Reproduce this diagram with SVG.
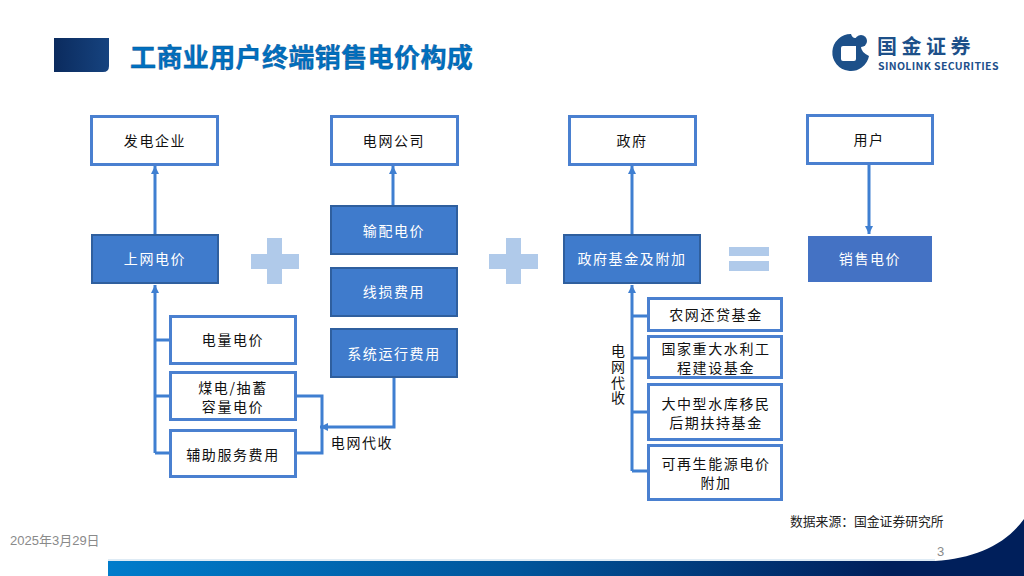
<svg xmlns="http://www.w3.org/2000/svg" width="1024" height="576" viewBox="0 0 1024 576">
<defs>
<linearGradient id="hd" x1="0" x2="1" y1="0" y2="0"><stop offset="0" stop-color="#0b2b5e"/><stop offset="1" stop-color="#16437f"/></linearGradient>
<linearGradient id="ft" gradientUnits="userSpaceOnUse" x1="108" x2="1024" y1="0" y2="0"><stop offset="0" stop-color="#007ccb"/><stop offset="0.45" stop-color="#01559b"/><stop offset="0.85" stop-color="#001f5b"/><stop offset="1" stop-color="#001f5b"/></linearGradient>
<marker id="ah" markerUnits="userSpaceOnUse" markerWidth="10" markerHeight="9" refX="8" refY="4" orient="auto"><path d="M0 0L8 4L0 8Z" fill="#3f7fd1"/></marker>
</defs>
<style>
text{font-family:"Noto Sans CJK SC","Noto Sans",sans-serif}
.o{fill:#fff;stroke:#4a80d0;stroke-width:3}
.f{fill:#3f7bcc;stroke:#2f5f9e;stroke-width:2}
.t{font-size:14px;letter-spacing:1.6px;text-anchor:middle;fill:#111}
.c{fill:none;stroke:#3f7fd1;stroke-width:3}
.s{fill:#b0caea}
</style>
<rect width="1024" height="576" fill="#fff"/>
<g id="header">
<path d="M54 38H109V66Q109 72 103 72H54Z" fill="url(#hd)"/>
<text x="130" y="67" font-size="26" font-weight="700" letter-spacing="0.4" fill="#0070bf" stroke="#0a4f92" stroke-width="0.4">工商业用户终端销售电价构成</text>
</g>
<g id="logo">
<path fill-rule="evenodd" d="M851 34A18.500 18.500 0 1 0 869 56Q861 52 861 47Q864 42 858 37Q853 40 851 34ZM843 46H856V59Q856 61 854 61H843Q841 61 841 59V48Q841 46 843 46Z" fill="#1d5089"/>
<circle cx="861" cy="41" r="6" fill="#1d5089"/>
<text x="877" y="54" font-size="20" font-weight="700" letter-spacing="4.500" fill="#1d5089">国金证券</text>
<text x="878" y="69.500" font-size="10.500" font-weight="700" letter-spacing="0.35" fill="#1d4f8a" font-family="Liberation Sans">SINOLINK SECURITIES</text>
</g>
<g id="connectors">
<path class="c" d="M155 235V166" marker-end="url(#ah)"/>
<path class="c" d="M393 206V166" marker-end="url(#ah)"/>
<path class="c" d="M632 235V166" marker-end="url(#ah)"/>
<path class="c" d="M869 163V234" marker-end="url(#ah)"/>
<path class="c" d="M155 453V285" marker-end="url(#ah)"/>
<path class="c" d="M170 340H155M170 396H155M170 453H155"/>
<path class="c" d="M296 396H322V453H296"/>
<path class="c" d="M394 377V427H320" marker-end="url(#ah)"/>
<path class="c" d="M632 471V285" marker-end="url(#ah)"/>
<path class="c" d="M648 316H632M648 358H632M648 412H632M648 471H632"/>
</g>
<g id="n1"><rect class="o" x="91.500" y="116.500" width="126" height="48"/><text class="t" x="155" y="146">发电企业</text></g>
<g id="n2"><rect class="o" x="331.500" y="116.500" width="126" height="48"/><text class="t" x="394" y="146">电网公司</text></g>
<g id="n3"><rect class="o" x="569.500" y="116.500" width="126" height="48"/><text class="t" x="632" y="146">政府</text></g>
<g id="n4"><rect class="o" x="807.500" y="115.500" width="125" height="48"/><text class="t" x="869" y="145">用户</text></g>
<g id="n5"><rect class="f" x="92" y="235" width="126" height="48"/><text class="t" x="155" y="264" style="fill:#fff">上网电价</text></g>
<g id="n6"><rect class="f" x="331" y="206" width="126" height="48"/><text class="t" x="394" y="236" style="fill:#fff">输配电价</text></g>
<g id="n7"><rect class="f" x="331" y="268" width="126" height="48"/><text class="t" x="394" y="297" style="fill:#fff">线损费用</text></g>
<g id="n8"><rect class="f" x="331" y="329" width="126" height="48"/><text class="t" x="394" y="359" style="fill:#fff">系统运行费用</text></g>
<g id="n9"><rect class="f" x="564" y="235" width="136" height="48"/><text class="t" x="632" y="264" style="fill:#fff">政府基金及附加</text></g>
<g id="n10"><rect x="808" y="236" width="124" height="46" fill="#4472c4"/><text class="t" x="870" y="264" style="fill:#fff">销售电价</text></g>
<g id="n11"><rect class="o" x="170.500" y="316.500" width="125" height="47"/><text class="t" x="233" y="345">电量电价</text></g>
<g id="n12"><rect class="o" x="170.500" y="372.500" width="125" height="47"/><text class="t" x="233" y="393">煤电/抽蓄</text><text class="t" x="233" y="412">容量电价</text></g>
<g id="n13"><rect class="o" x="170.500" y="430.500" width="125" height="46"/><text class="t" x="233" y="460">辅助服务费用</text></g>
<g id="n14"><rect class="o" x="648.500" y="298.500" width="133" height="32"/><text class="t" x="716" y="320">农网还贷基金</text></g>
<g id="n15"><rect class="o" x="648.500" y="336.500" width="133" height="41"/><text class="t" x="716" y="354">国家重大水利工</text><text class="t" x="716" y="373">程建设基金</text></g>
<g id="n16"><rect class="o" x="648.500" y="384.500" width="133" height="55"/><text class="t" x="716" y="409">大中型水库移民</text><text class="t" x="716" y="428">后期扶持基金</text></g>
<g id="n17"><rect class="o" x="648.500" y="445.500" width="133" height="54"/><text class="t" x="716" y="469">可再生能源电价</text><text class="t" x="716" y="488">附加</text></g>
<g id="ops">
<path class="s" d="M267 238H282V254H299V269H282V284H267V269H251V254H267Z"/>
<path class="s" d="M506 238H521V254H538V269H521V284H506V269H489V254H506Z"/>
<path class="s" d="M729 247H769V256H729ZM729 261H769V271H729Z"/>
</g>
<g id="labels">
<text x="362" y="448" class="t">电网代收</text>
<text x="618" y="344" font-size="14" letter-spacing="1.600" fill="#111" style="writing-mode:vertical-rl">电网代收</text>
</g>
<g id="footer">
<path d="M108 561H935C975 558 1005 545 1024 519V576H108Z" fill="url(#ft)"/>
<path d="M108 560H935" stroke="#bcd6ea" stroke-width="1"/>
<text x="790" y="526" font-size="12.800" fill="#222">数据来源：国金证券研究所</text>
<text x="10" y="545" font-size="13" fill="#8a8a8a" style="font-family:'Liberation Sans','Noto Sans CJK SC',sans-serif">2025年3月29日</text>
<text x="937" y="556" font-size="13" fill="#8a8a8a" style="font-family:'Liberation Sans',sans-serif">3</text>
</g>
</svg>
